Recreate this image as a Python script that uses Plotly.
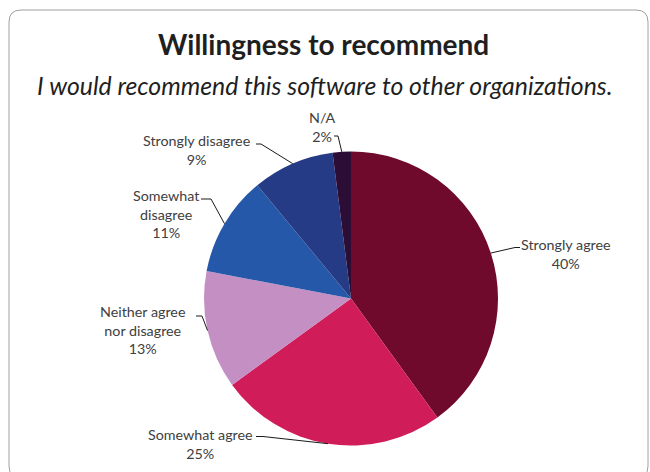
import math
import plotly.graph_objects as go

# ---- data ----
categories = ["Strongly agree", "Somewhat agree", "Neither agree nor disagree",
              "Somewhat disagree", "Strongly disagree", "N/A"]
label_text = ["Strongly agree", "Somewhat agree", "Neither agree<br>nor disagree",
              "Somewhat<br>disagree", "Strongly disagree", "N/A"]
values = [40, 25, 13, 11, 9, 2]
colors = ["#6F0A2C", "#D11C5A", "#C490C4", "#2558A8", "#263B85", "#2B0D36"]

title_text = "Willingness to recommend"
subtitle_text = "I would recommend this software to other organizations."

# ---- layout (pixels) ----
W, H = 650, 472
CX, CY, R = 351, 298.5, 147
label_layout = [
    dict(cx=566, cy=254, sx=520, sy=247.5, ex=-5),
    dict(cx=200, cy=444, sx=256, sy=436.5, ex=7),
    dict(cx=142, cy=330, sx=196, sy=316, ex=6),
    dict(cx=166, cy=214, sx=201, sy=199, ex=10),
    dict(cx=196, cy=150, sx=256, sy=144, ex=5),
    dict(cx=322, cy=127, sx=334, sy=136, ex=4),
]
FONT = "Lato"
TXT = "#404040"


def px(x):
    return x / W


def py(y):
    return 1 - y / H


total = sum(values)
fig = go.Figure(go.Pie(
    labels=categories, values=values, sort=False, direction="clockwise",
    rotation=0, marker=dict(colors=colors, line=dict(width=0)),
    textinfo="none", hoverinfo="label+percent", showlegend=False,
    domain=dict(x=[px(CX - R), px(CX + R)], y=[py(CY + R), py(CY - R)]),
))

annotations = []
shapes = []
cum = 0
for v, lab, L in zip(values, label_text, label_layout):
    mid = (cum + v / 2) / total * 2 * math.pi
    cum += v
    ax_ = CX + R * math.sin(mid)
    ay_ = CY - R * math.cos(mid)
    pct = f"{round(v / total * 100)}%"
    annotations.append(dict(
        x=px(L["cx"]), y=py(L["cy"]), xref="paper", yref="paper",
        text=f"{lab}<br>{pct}", showarrow=False, xanchor="center",
        yanchor="middle", align="center",
        font=dict(family=FONT, size=14.3, color=TXT)))
    path = (f"M {px(L['sx'])},{py(L['sy'])} L {px(L['sx'] + L['ex'])},{py(L['sy'])} "
            f"L {px(ax_)},{py(ay_)}")
    shapes.append(dict(type="path", xref="paper", yref="paper", path=path,
                       line=dict(color="#1a1a1a", width=1)))

annotations.append(dict(x=px(323), y=py(44), xref="paper", yref="paper",
                        text=f"<b>{title_text}</b>", showarrow=False,
                        xanchor="center", yanchor="middle",
                        font=dict(family=FONT, size=28, color="#1f1f1f")))
annotations.append(dict(x=px(324.5), y=py(86), xref="paper", yref="paper",
                        text=f"<i>{subtitle_text}</i>", showarrow=False,
                        xanchor="center", yanchor="middle",
                        font=dict(family=FONT, size=24.8, color="#1f1f1f")))

# rounded border
x0, y0, x1, y1, rr = 9, 10, 648, 478, 12
border = (f"M {px(x0 + rr)},{py(y0)} L {px(x1 - rr)},{py(y0)} "
          f"Q {px(x1)},{py(y0)} {px(x1)},{py(y0 + rr)} "
          f"L {px(x1)},{py(y1 - rr)} Q {px(x1)},{py(y1)} {px(x1 - rr)},{py(y1)} "
          f"L {px(x0 + rr)},{py(y1)} Q {px(x0)},{py(y1)} {px(x0)},{py(y1 - rr)} "
          f"L {px(x0)},{py(y0 + rr)} Q {px(x0)},{py(y0)} {px(x0 + rr)},{py(y0)} Z")
shapes.append(dict(type="path", xref="paper", yref="paper", path=border,
                   line=dict(color="#a0a0a0", width=1), layer="below"))

fig.update_layout(width=W, height=H, margin=dict(l=0, r=0, t=0, b=0),
                  paper_bgcolor="white", plot_bgcolor="white",
                  annotations=annotations, shapes=shapes)
fig.write_html("out.html")
